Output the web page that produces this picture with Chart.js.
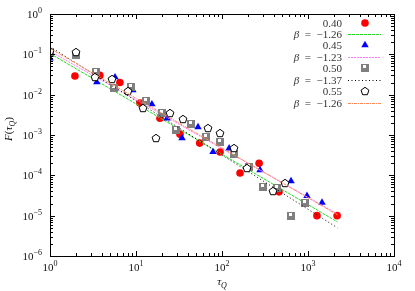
<!DOCTYPE html>
<html>
<head>
<meta charset="utf-8">
<script src="https://cdn.jsdelivr.net/npm/chart.js@4.4.0/dist/chart.umd.min.js"></script>
<style>
  body { margin: 0; background: #fff; }
</style>
</head>
<body>
<canvas id="chart" width="415" height="291"></canvas>
<script>
// measured points, one pair of arrays per series (tau_Q, F)
const tau40 = [1.95, 3.8, 6.5, 11.1, 19, 32.5, 55, 95, 162, 270, 460, 1270, 2180];
const f40 = [0.029, 0.030, 0.020, 0.0062, 0.0026, 0.00105, 0.00063, 0.00038, 0.000114, 0.0002, 3.9e-5, 1.0e-5, 1.0e-5];

const tau45 = [1, 3.5, 5.7, 9.2, 15.3, 23, 34.3, 52.6, 78.6, 121, 277, 635, 973, 1455];
const f45 = [0.08, 0.0204, 0.0271, 0.0129, 0.0058, 0.0026, 0.00084, 0.00157, 0.00038, 0.00047, 0.000135, 7.2e-5, 3.1e-5, 2.1e-5];

const tau50 = [1, 2.01, 3.43, 5.55, 8.75, 13.1, 20.1, 29.2, 43.6, 65.2, 94.8, 138, 206, 300, 436, 635, 923];
const f50 = [0.106, 0.095, 0.036, 0.0145, 0.0153, 0.0069, 0.0035, 0.00132, 0.00186, 0.00089, 0.00067, 0.00034, 0.00016, 5.1e-5, 4.8e-5, 9.8e-6, 2.1e-5];

const tau55 = [1, 2.01, 3.34, 5.26, 8.07, 12.1, 17.1, 24.9, 35.2, 68.7, 94.8, 138, 195, 392, 540];
const f55 = [0.119, 0.113, 0.0271, 0.0242, 0.0122, 0.0046, 0.00084, 0.0035, 0.00248, 0.00148, 0.00111, 0.00047, 0.000152, 4.1e-5, 6.5e-5];

// fit lines, end points
const fitTau = [1, 2200];
const fit40 = [0.105, 7.0e-6];
const fit45 = [0.12, 1.1e-5];
const fit50 = [0.155, 5.0e-6];
const fit55 = [0.14, 1.05e-5];

const legendLabels = ["0.40", "−1.26", "0.45", "−1.23", "0.50", "−1.37", "0.55", "−1.26"];

const serif = "'Liberation Serif', 'DejaVu Serif', serif";

function pairs(xs, ys) {
  return xs.map((x, i) => ({ x: x, y: ys[i] }));
}

// custom markers
function makeSquare() {
  const c = document.createElement("canvas");
  c.width = 8; c.height = 8;
  const g = c.getContext("2d");
  g.fillStyle = "#7f7f7f";
  g.fillRect(0, 0, 8, 8);
  g.fillStyle = "#ffffff";
  g.fillRect(2, 1, 3, 3);
  return c;
}

function makePentagon() {
  const c = document.createElement("canvas");
  c.width = 10; c.height = 10;
  const g = c.getContext("2d");
  g.beginPath();
  for (let k = 0; k < 5; k++) {
    const a = -Math.PI / 2 + k * 2 * Math.PI / 5;
    const px = 5 + 4.1 * Math.cos(a), py = 5.4 + 4.1 * Math.sin(a);
    if (k === 0) g.moveTo(px, py); else g.lineTo(px, py);
  }
  g.closePath();
  g.fillStyle = "#fff";
  g.fill();
  g.strokeStyle = "#000";
  g.lineWidth = 1;
  g.stroke();
  return c;
}

const squareImg = makeSquare();
const pentaImg = makePentagon();

function pointSet(data, style, color, radius, order) {
  return {
    data: data, pointStyle: style, pointRadius: radius,
    backgroundColor: color, borderColor: color, borderWidth: 0,
    showLine: false, order: order
  };
}

function fitSet(ys, color, dash, order) {
  return {
    data: pairs(fitTau, ys), showLine: true, pointRadius: 0,
    borderColor: color, borderWidth: 1, borderDash: dash,
    fill: false, order: order
  };
}

const datasets = [
  pointSet(pairs(tau40, f40), "circle", "#ff0000", 3.8, 8),
  fitSet(fit40, "#22dd22", [3, 1], 7),
  pointSet(pairs(tau45, f45), "triangle", "#0000ff", 4.3, 6),
  fitSet(fit45, "#ff77ff", [2, 1], 5),
  pointSet(pairs(tau50, f50), squareImg, "#808080", 4, 4),
  fitSet(fit50, "#000000", [1, 2.5], 3),
  pointSet(pairs(tau55, f55), pentaImg, "#000", 5, 2),
  fitSet(fit55, "#ff8855", [3, 1, 1, 1], 1)
];

function drawRuns(ctx, runs, x, y, align) {
  let w = 0;
  runs.forEach(r => { ctx.font = r[1]; w += ctx.measureText(r[0]).width; });
  let cx = align === "right" ? x - w : align === "center" ? x - w / 2 : x;
  runs.forEach(r => {
    ctx.font = r[1];
    ctx.fillText(r[0], cx, y + (r[2] || 0));
    cx += ctx.measureText(r[0]).width;
  });
}

function powRuns(e) {
  return [["10", "11px " + serif], [e < 0 ? "−" + (-e) : "" + e, "8px " + serif, -5]];
}

// keep the bitmap markers crisp
const crisp = {
  id: "crisp",
  beforeDatasetsDraw(chart) { chart.ctx.imageSmoothingEnabled = false; },
  afterDatasetsDraw(chart) { chart.ctx.imageSmoothingEnabled = true; }
};

const frame = {
  id: "frame",
  afterDraw(chart) {
    const ctx = chart.ctx;
    const ca = chart.chartArea;
    const xs = chart.scales.x, ys = chart.scales.y;
    ctx.save();
    ctx.strokeStyle = "#000";
    ctx.lineWidth = 1;
    ctx.strokeRect(Math.round(ca.left) + 0.5, Math.round(ca.top) + 0.5,
      Math.round(ca.right - ca.left), Math.round(ca.bottom - ca.top));

    // inward ticks on all four sides
    ctx.beginPath();
    for (let e = 0; e <= 4; e++) {
      for (let m = 1; m < 10; m++) {
        if (e === 4 && m > 1) break;
        const v = m * Math.pow(10, e);
        const px = Math.round(xs.getPixelForValue(v)) + 0.5;
        const len = m === 1 ? 5 : 3;
        ctx.moveTo(px, ca.bottom); ctx.lineTo(px, ca.bottom - len);
        ctx.moveTo(px, ca.top); ctx.lineTo(px, ca.top + len);
      }
    }
    for (let e = -6; e <= 0; e++) {
      for (let m = 1; m < 10; m++) {
        if (e === 0 && m > 1) break;
        const v = m * Math.pow(10, e);
        const py = Math.round(ys.getPixelForValue(v)) + 0.5;
        const len = m === 1 ? 5 : 3;
        ctx.moveTo(ca.left, py); ctx.lineTo(ca.left + len, py);
        ctx.moveTo(ca.right, py); ctx.lineTo(ca.right - len, py);
      }
    }
    ctx.stroke();

    // tick labels
    ctx.fillStyle = "#111";
    ctx.textAlign = "left";
    ctx.textBaseline = "alphabetic";
    for (let e = 0; e <= 4; e++) {
      drawRuns(ctx, powRuns(e), xs.getPixelForValue(Math.pow(10, e)), 271, "center");
    }
    for (let e = -6; e <= 0; e++) {
      drawRuns(ctx, powRuns(e), 42, ys.getPixelForValue(Math.pow(10, e)) + 4, "right");
    }

    // axis titles
    drawRuns(ctx, [["τ", "italic 11px " + serif], ["Q", "italic 8px " + serif, 3]], 222, 285, "center");
    ctx.save();
    ctx.translate(8, 129);
    ctx.rotate(-Math.PI / 2);
    drawRuns(ctx, [["F", "italic 11px " + serif], ["(", "11px " + serif],
      ["τ", "italic 11px " + serif], ["Q", "italic 8px " + serif, 3],
      [")", "11px " + serif]], 0, 4, "center");
    ctx.restore();

    // legend
    ctx.imageSmoothingEnabled = false;
    const rowY = [22.7, 33.9, 45.1, 56.6, 68, 79.5, 91, 102.5];
    for (let i = 0; i < 8; i++) {
      const y = rowY[i];
      const ds = chart.data.datasets[i];
      ctx.fillStyle = "#333";
      if (i % 2 === 0) {
        drawRuns(ctx, [[legendLabels[i], "11px " + serif]], 342, y + 4, "right");
        ctx.fillStyle = ds.backgroundColor;
        ctx.strokeStyle = ds.borderColor;
        Chart.helpers.drawPoint(ctx, {
          pointStyle: ds.pointStyle, radius: ds.pointRadius, rotation: 0, borderWidth: 0
        }, 365, Math.round(y));
      } else {
        drawRuns(ctx, [["β", "italic 11px " + serif], ["\u2002=\u2002" + legendLabels[i], "11px " + serif]], 342, y + 4, "right");
        ctx.strokeStyle = ds.borderColor;
        ctx.lineWidth = 1;
        ctx.setLineDash(ds.borderDash);
        ctx.beginPath();
        ctx.moveTo(348, Math.round(y) + 0.5);
        ctx.lineTo(381, Math.round(y) + 0.5);
        ctx.stroke();
        ctx.setLineDash([]);
      }
    }
    ctx.restore();
  }
};

new Chart(document.getElementById("chart").getContext("2d"), {
  type: "scatter",
  data: { datasets: datasets },
  options: {
    responsive: false,
    animation: false,
    devicePixelRatio: 1,
    layout: { padding: { left: 50, right: 21, top: 14, bottom: 35 } },
    plugins: { legend: { display: false }, tooltip: { enabled: false } },
    scales: {
      x: {
        type: "logarithmic", min: 1, max: 10000,
        ticks: { display: false },
        grid: { display: false, drawTicks: false },
        border: { display: false }
      },
      y: {
        type: "logarithmic", min: 1e-6, max: 1,
        ticks: { display: false },
        grid: { display: false, drawTicks: false },
        border: { display: false }
      }
    }
  },
  plugins: [crisp, frame]
});
</script>
</body>
</html>
